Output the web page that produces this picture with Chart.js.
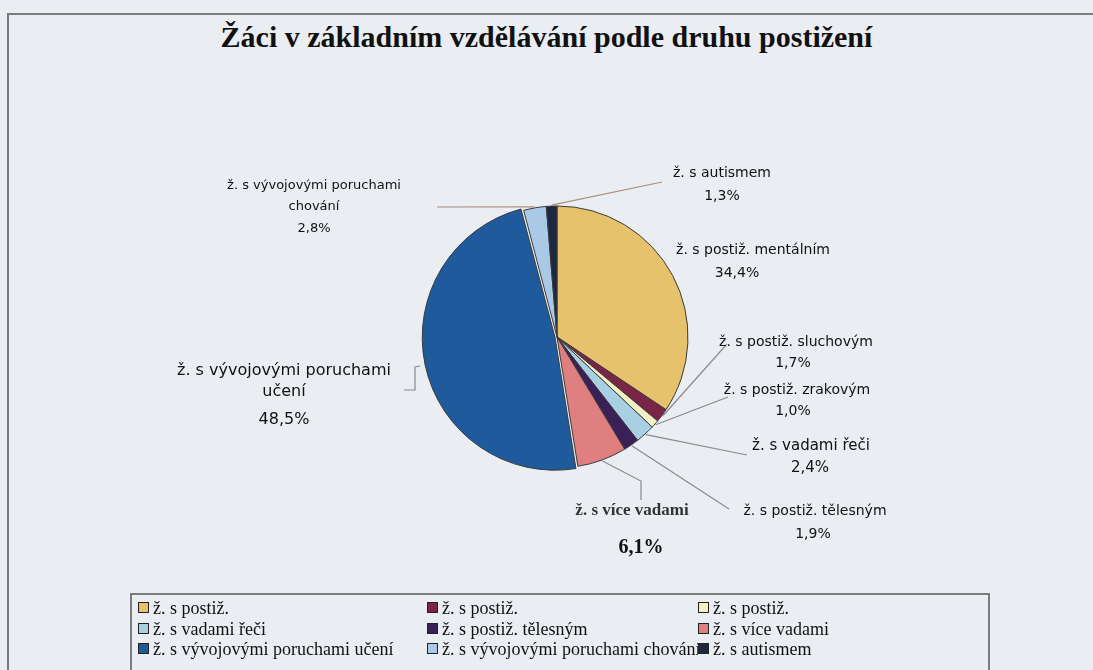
<!DOCTYPE html>
<html lang="cs">
<head>
<meta charset="utf-8">
<title>Žáci v základním vzdělávání podle druhu postižení</title>
<script src="https://cdn.jsdelivr.net/npm/chart.js@4.4.1/dist/chart.umd.min.js"></script>
<style>
    html, body { margin: 0; padding: 0; }
    body { width: 1093px; height: 670px; overflow: hidden; background: #eaedf2; position: relative; }
    #frame { position: absolute; left: 7px; top: 13px; width: 1200px; height: 800px; border: 2px solid #7b7b7b; }
    #title { position: absolute; left: 0; top: 19px; width: 1093px; text-align: center;
             font: bold 30px "Liberation Serif", "Times New Roman", serif; color: #111; line-height: 36px; }
    #chart { position: absolute; left: 0; top: 0; }
    #legend { position: absolute; left: 130px; top: 593px; width: 856px; height: 200px; border: 2px solid #7b7b7b; }
    .legend-item { position: absolute; white-space: nowrap; overflow: hidden;
                   font: 18px "Liberation Serif", "Times New Roman", serif; color: #111; line-height: 20px; }
    .legend-item span.box { display: inline-block; width: 9px; height: 9px; border: 1px solid #222;
                            margin-right: 4px; vertical-align: 1px; }
</style>
</head>
<body>
<div id="frame"></div>
<div id="title">Žáci v základním vzdělávání podle druhu postižení</div>
<canvas id="chart" width="1093" height="670"></canvas>
<div id="legend"></div>
<script>
// --- data ---
const categories = [
    'ž. s postiž. mentálním',
    'ž. s postiž. sluchovým',
    'ž. s postiž. zrakovým',
    'ž. s vadami řeči',
    'ž. s postiž. tělesným',
    'ž. s více vadami',
    'ž. s vývojovými poruchami učení',
    'ž. s vývojovými poruchami chování',
    'ž. s autismem'
];
const shares = [34.4, 1.7, 1.0, 2.4, 1.9, 6.1, 48.5, 2.8, 1.3];
const legendLabels = [
    'ž. s postiž.',
    'ž. s postiž.',
    'ž. s postiž.',
    'ž. s vadami řeči',
    'ž. s postiž. tělesným',
    'ž. s více vadami',
    'ž. s vývojovými poruchami učení',
    'ž. s vývojovými poruchami chování',
    'ž. s autismem'
];
const sliceColors = ['#e6c26c', '#7a2448', '#f2f0c4', '#a9d0e2', '#3b2058', '#e07f80', '#1f5b9c', '#a9c9e6', '#1b2840'];

// --- layout of the outside labels (name lines, centre, percent line, leader path) ---
const labelLayout = [
    { lines: ['ž. s postiž. mentálním'], x: 753, y: 250, px: 737, py: 273, leader: null },
    { lines: ['ž. s postiž. sluchovým'], x: 796, y: 342, px: 793, py: 363, leader: [[727, 344]] },
    { lines: ['ž. s postiž. zrakovým'], x: 797, y: 390, px: 793, py: 411, leader: [[728, 397]] },
    { lines: ['ž. s vadami řeči'], x: 811, y: 446, px: 810, py: 468, leader: [[747, 455]], size: 15 },
    { lines: ['ž. s postiž. tělesným'], x: 815, y: 511, px: 813, py: 534, leader: [[729, 509]] },
    { lines: ['ž. s více vadami'], x: 632, y: 511, px: 641, py: 548, leader: [[641, 500], [641, 481]], bold: true },
    { lines: ['ž. s vývojovými poruchami', 'učení'], x: 284, y: 371, px: 284, py: 420, leader: [[404, 390], [415, 390], [415, 367]], size: 16 },
    { lines: ['ž. s vývojovými poruchami', 'chování'], x: 314, y: 186, px: 314, py: 229, leader: [[437, 207]], size: 13 },
    { lines: ['ž. s autismem'], x: 722, y: 173, px: 722, py: 196, leader: [[662, 182]] }
];
const sliceOffsets = [0, 0, 0, 0, 0, 0, 8, 0, 0];

function formatShare(v) {
    return v.toFixed(1).replace('.', ',') + '%';
}

// --- plugin drawing the outside labels and their leader lines ---
const outsideLabels = {
    id: 'outsideLabels',
    afterDatasetsDraw(chart) {
        const ctx = chart.ctx;
        const meta = chart.getDatasetMeta(0);
        meta.data.forEach((arc, i) => {
            const cfg = labelLayout[i];
            const p = arc.getProps(['x', 'y', 'startAngle', 'endAngle', 'outerRadius'], true);
            const mid = (p.startAngle + p.endAngle) / 2;
            const r = p.outerRadius + sliceOffsets[i] + 1;
            const ex = p.x + Math.cos(mid) * r;
            const ey = p.y + Math.sin(mid) * r;

            ctx.save();
            if (cfg.leader) {
                ctx.strokeStyle = i >= 7 ? '#a98f7f' : '#8a8a8a';
                ctx.lineWidth = 1.2;
                ctx.beginPath();
                ctx.moveTo(cfg.leader[0][0], cfg.leader[0][1]);
                cfg.leader.slice(1).forEach(pt => ctx.lineTo(pt[0], pt[1]));
                ctx.lineTo(ex, ey);
                ctx.stroke();
            }
            ctx.textAlign = 'center';
            ctx.textBaseline = 'middle';
            if (cfg.bold) {
                ctx.font = 'bold 17px "Liberation Serif", "Times New Roman", serif';
                ctx.fillStyle = '#333';
            } else {
                ctx.font = (cfg.size || 14) + 'px "DejaVu Sans", Tahoma, sans-serif';
                ctx.fillStyle = '#111';
            }
            cfg.lines.forEach((line, k) => ctx.fillText(line, cfg.x, cfg.y + k * 21));
            if (cfg.bold) {
                ctx.font = 'bold 20px "Liberation Serif", "Times New Roman", serif';
                ctx.fillStyle = '#111';
            }
            ctx.fillText(formatShare(shares[i]), cfg.px, cfg.py);
            ctx.restore();
        });
    }
};

const chart = new Chart(document.getElementById('chart'), {
    type: 'pie',
    data: {
        labels: categories,
        datasets: [{
            data: shares,
            backgroundColor: sliceColors,
            borderColor: '#3a3a3a',
            borderWidth: 1,
            offset: sliceOffsets,
            radius: 131
        }]
    },
    options: {
        responsive: false,
        animation: false,
        layout: { padding: { left: 300, right: 279, top: 150, bottom: 146 } },
        plugins: {
            legend: { display: false },
            tooltip: { enabled: false },
            title: { display: false }
        }
    },
    plugins: [outsideLabels]
});

// --- legend, three columns in reading order ---
const legendBox = document.getElementById('legend');
const legendCols = [6, 295, 566];
const legendColWidths = [289, 271, 280];
const legendRows = [3, 24, 44];
legendLabels.forEach((text, i) => {
    const col = i % 3;
    const row = Math.floor(i / 3);
    const item = document.createElement('div');
    item.className = 'legend-item';
    item.style.left = legendCols[col] + 'px';
    item.style.top = legendRows[row] + 'px';
    item.style.width = legendColWidths[col] + 'px';
    const box = document.createElement('span');
    box.className = 'box';
    box.style.background = sliceColors[i];
    item.appendChild(box);
    item.appendChild(document.createTextNode(text));
    legendBox.appendChild(item);
});
</script>
</body>
</html>
